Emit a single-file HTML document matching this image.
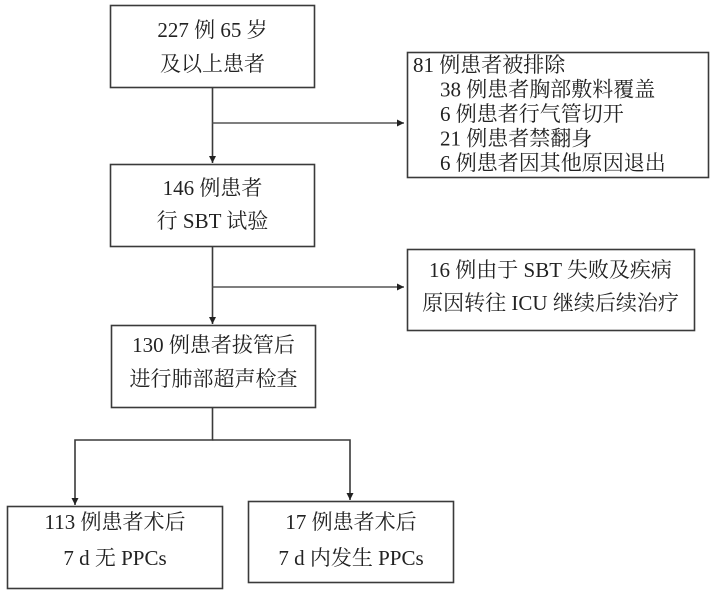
<!DOCTYPE html>
<html>
<head>
<meta charset="utf-8">
<style>
  html,body{margin:0;padding:0;background:#fff;}
  svg{display:block;}
  text{font-family:"Liberation Serif","Noto Serif CJK SC",serif;font-size:21px;fill:#222;}
</style>
</head>
<body>
<svg width="720" height="595" viewBox="0 0 720 595" xmlns="http://www.w3.org/2000/svg">
  <defs>
    <marker id="ah" markerWidth="8" markerHeight="8" refX="7" refY="4" orient="auto" markerUnits="userSpaceOnUse">
      <path d="M0,0.5 L7,4 L0,7.5 Z" fill="#222"/>
    </marker>
  </defs>
  <g fill="none" stroke="#3a3a3a" stroke-width="1.6">
    <!-- boxes -->
    <rect x="110.5" y="5.5" width="204" height="82"/>
    <rect x="110.5" y="164.5" width="204" height="82"/>
    <rect x="407.5" y="52.5" width="301" height="125"/>
    <rect x="407.5" y="249.5" width="287" height="81"/>
    <rect x="111.5" y="325.5" width="204" height="82"/>
    <rect x="7.5" y="506.5" width="215" height="82"/>
    <rect x="248.5" y="501.5" width="205" height="81"/>
    <!-- connectors -->
    <line x1="212.5" y1="88" x2="212.5" y2="163" marker-end="url(#ah)"/>
    <line x1="212.5" y1="123" x2="404" y2="123" marker-end="url(#ah)" stroke="#555"/>
    <line x1="212.5" y1="247" x2="212.5" y2="324" marker-end="url(#ah)"/>
    <line x1="212.5" y1="287" x2="404" y2="287" marker-end="url(#ah)" stroke="#555"/>
    <polyline points="212.5,408 212.5,440 75,440 75,505" marker-end="url(#ah)"/>
    <polyline points="212.5,440 350,440 350,500" marker-end="url(#ah)"/>
  </g>
  <g text-anchor="middle" dominant-baseline="central">
    <text x="212.5" y="30">227 例 65 岁</text>
    <text x="212.5" y="64">及以上患者</text>
    <text x="212.5" y="188">146 例患者</text>
    <text x="212.5" y="221">行 SBT 试验</text>
    <text x="550.5" y="270">16 例由于 SBT 失败及疾病</text>
    <text x="550.5" y="303">原因转往 ICU 继续后续治疗</text>
    <text x="213.5" y="345">130 例患者拔管后</text>
    <text x="213.5" y="379">进行肺部超声检查</text>
    <text x="115" y="522">113 例患者术后</text>
    <text x="115" y="558">7 d 无 PPCs</text>
    <text x="351" y="522">17 例患者术后</text>
    <text x="351" y="558">7 d 内发生 PPCs</text>
  </g>
  <g dominant-baseline="central">
    <text x="413" y="65">81 例患者被排除</text>
    <text x="440" y="89.5">38 例患者胸部敷料覆盖</text>
    <text x="440" y="114">6 例患者行气管切开</text>
    <text x="440" y="138.5">21 例患者禁翻身</text>
    <text x="440" y="163">6 例患者因其他原因退出</text>
  </g>
</svg>
</body>
</html>
